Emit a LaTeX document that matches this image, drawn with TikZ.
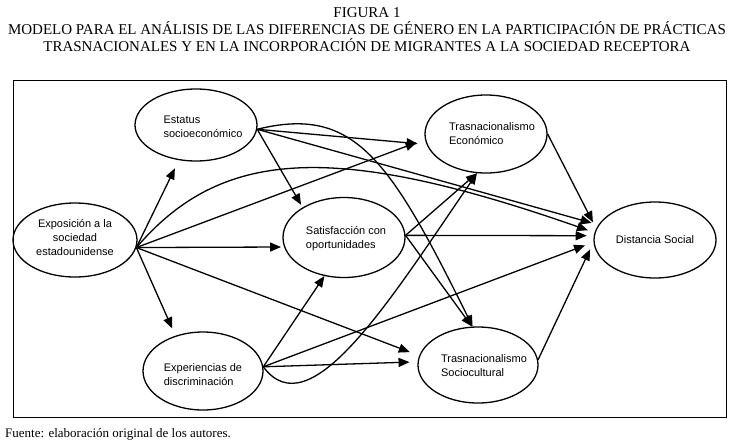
\documentclass[tikz,border=0pt]{standalone}
\usepackage{fontspec}
\setmainfont{Liberation Serif}
\newfontfamily\arialf{Liberation Sans}
\usetikzlibrary{arrows.meta,shapes.geometric}
\begin{document}
\begin{tikzpicture}[x=1pt,y=-1pt,
  ell/.style={draw, ellipse, line width=1.3pt, inner sep=0pt},
  lbl/.style={font=\arialf\fontsize{11}{14}\selectfont, align=left, inner sep=0pt},
  arr/.style={line width=1.3pt, -{Triangle[length=11pt,width=9pt]}},
  ttl/.style={font=\fontsize{15}{17}\selectfont, anchor=base, inner sep=0pt}]
\useasboundingbox (0,0) rectangle (735,445);
% title and source
\node[ttl] (title1) at (367,17) {FIGURA 1};
\node[ttl] (title2) at (367,34) {MODELO PARA EL ANÁLISIS DE LAS DIFERENCIAS DE GÉNERO EN LA PARTICIPACIÓN DE PRÁCTICAS};
\node[ttl] (title3) at (367,51) {TRASNACIONALES Y EN LA INCORPORACIÓN DE MIGRANTES A LA SOCIEDAD RECEPTORA};
\node[font=\fontsize{13}{15}\selectfont, anchor=base west, inner sep=0pt] (src) at (5,437) {Fuente: elaboración original de los autores.};
% frame
\draw[line width=1pt] (13,80) rectangle (726,417);
% ellipses
\node[ell, minimum width=124pt, minimum height=74pt] (expo) at (75,240) {};
\node[ell, minimum width=122pt, minimum height=72pt] (est) at (196,125) {};
\node[ell, minimum width=122pt, minimum height=80pt] (sat) at (344,237.5) {};
\node[ell, minimum width=120pt, minimum height=78pt] (exp) at (203,371) {};
\node[ell, minimum width=122pt, minimum height=78pt] (teco) at (486,134) {};
\node[ell, minimum width=120pt, minimum height=76pt] (tsoc) at (478,365) {};
\node[ell, minimum width=122pt, minimum height=76pt] (dist) at (655,240) {};
% texts
\node[lbl, align=center] (expoT) at (75,237.5) {Exposición a la\\sociedad\\estadounidense};
\node[lbl] (estT) at (203,127) {Estatus\\socioeconómico};
\node[lbl] (satT) at (346,239) {Satisfacción con\\oportunidades};
\node[lbl] (expT) at (203,375) {Experiencias de\\discriminación};
\node[lbl] (tecoT) at (492,134) {Trasnacionalismo\\Económico};
\node[lbl] (tsocT) at (484,366) {Trasnacionalismo\\Sociocultural};
\node[lbl] (distT) at (655,240) {Distancia Social};
% from Exposicion
\draw[arr, shorten >=9pt] (expo.353) -- (est.244);
\draw[arr, shorten >=8pt] (expo.353) -- (exp.128);
\draw[arr, shorten >=3pt] (expo.353) -- (sat.189);
\draw[arr, shorten >=9pt] (expo.353) -- (teco.185);
\draw[arr, shorten >=10pt] (expo.353) -- (tsoc.171);
\draw[arr, shorten >=7pt] (expo.353) .. controls (220,150) and (330,140) .. (dist.173);
% from Estatus
\draw[arr, shorten >=9pt] (est.356) -- (teco.190);
\draw[arr, shorten >=3pt] (est.356) -- (sat.144);
\draw[arr, shorten >=7pt] (est.356) -- (dist.165);
\draw[arr] (est.356) .. controls (355,105) and (390,160) .. (tsoc.98);
% from Satisfaccion
\draw[arr] (sat.2) -- (teco.257);
\draw[arr, shorten >=7pt] (sat.2) -- (dist.176);
\draw[arr] (sat.2) -- (tsoc.99);
% from Experiencias
\draw[arr] (exp.4) -- (sat.243);
\draw[arr, shorten >=8pt] (exp.4) -- (tsoc.177);
\draw[arr, shorten >=9pt] (exp.4) -- (dist.182);
\draw[arr] (exp.4) .. controls (310,430) and (390,300) .. (teco.257);
% to Distancia
\draw[arr, shorten >=7pt] (teco.0) -- (dist.169);
\draw[arr, shorten >=8pt] (tsoc.5) -- (dist.182);
\end{tikzpicture}
\end{document}
